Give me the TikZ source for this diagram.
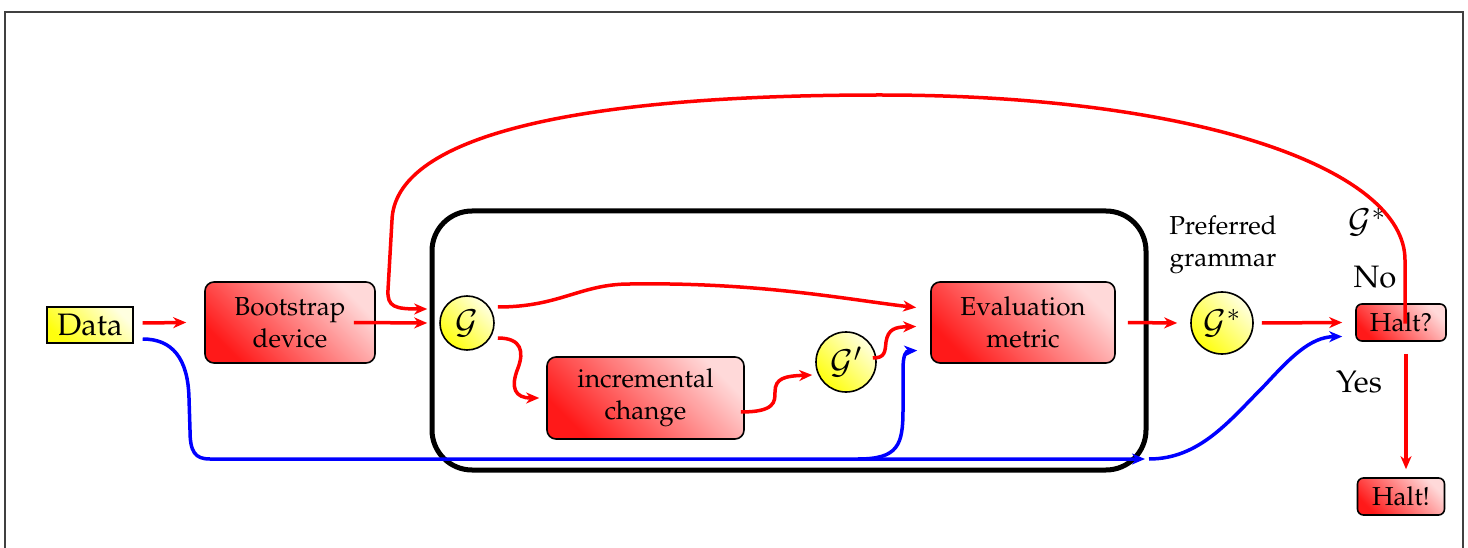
\documentclass[tikz,border=0pt]{standalone}
\usepackage[T1]{fontenc}
\usepackage{mathpazo}
\usetikzlibrary{arrows.meta,calc}
\begin{document}
\begin{tikzpicture}[x=1pt,y=-1pt,
  base/.style={font=\fontsize{26}{32}\selectfont},
  big/.style={font=\fontsize{31}{36}\selectfont},
  redbox/.style={base,draw=black,line width=1.6pt,rounded corners=9pt,align=center,
    top color=red!15,bottom color=red!90,shading angle=-45,inner sep=0pt},
  yelcirc/.style={circle,draw=black,line width=1.6pt,inner sep=0pt,
    top color=yellow!12,bottom color=yellow!95,shading angle=-45,font=\fontsize{33}{36}\selectfont},
  tip/.style={-{Stealth[length=13pt,width=11pt,inset=4pt]}},
  redarr/.style={tip,draw=red,line width=3.5pt},
  bluearr/.style={tip,draw=blue,line width=3.5pt},
  lbl/.style={inner sep=0pt,align=center}
]
\useasboundingbox (0,0) rectangle (1468,548);
\draw[black!75,line width=1.2pt] (5,560) -- (5,12) -- (1463,12) -- (1463,560);

% big container
\node[draw=black,line width=5pt,rounded corners=40pt,minimum width=714pt,minimum height=259pt,inner sep=0pt] (frame) at (789,340.5) {};

% nodes
\node[big,draw=black,line width=1.4pt,top color=yellow!12,bottom color=yellow!95,shading angle=-45,
  minimum width=86pt,minimum height=36pt,inner sep=0pt] (data) at (90,325) {Data};
\node[redbox,minimum width=170pt,minimum height=81pt] (boot) at (290,322.5) {Bootstrap\\device};
\node[yelcirc,minimum size=54pt] (G) at (467,323) {$\mathcal{G}$};
\node[redbox,minimum width=197pt,minimum height=82pt] (incr) at (645.5,398) {incremental\\change};
\node[yelcirc,minimum size=60pt] (Gp) at (846,362) {$\mathcal{G}'$};
\node[redbox,minimum width=184pt,minimum height=81pt] (eval) at (1023,322.5) {Evaluation\\metric};
\node[yelcirc,minimum size=62pt] (Gs) at (1222,323) {$\mathcal{G}^*$};
\node[redbox,rounded corners=6pt,minimum width=90pt,minimum height=37pt] (halt) at (1401,322.5) {Halt?};
\node[redbox,rounded corners=6pt,minimum width=87pt,minimum height=37pt] (stop) at (1401,496.5) {Halt!};

% labels
\node[lbl,base] (pref) at (1223,245) {Preferred\\grammar};
\node[lbl,font=\fontsize{33}{36}\selectfont] (gslab) at (1367,222) {$\mathcal{G}^*$};
\node[lbl,big] (no) at (1375,277) {No};
\node[lbl,big] (yes) at (1359,382) {Yes};

% junction points of the blue line
\coordinate (bj) at (1145,459);
\coordinate (bk) at (1149,459);

% blue paths
\draw[bluearr] ($(data.east)+(9,14)$) .. controls (172,339) and (188,358) .. (189,398)
   -- (190,430) .. controls (190,452) and (195,459) .. (210,459) -- (bj);
\draw[bluearr] (bk) .. controls (1200,459) and (1230,420) .. (1265,385)
   .. controls (1290,358) and (1310,337) .. ($(halt.west)+(-13,14)$);
\draw[bluearr] (858,459) .. controls (898,459) and (903,445) .. (903,410) -- (903,370)
   .. controls (903,354) and (906,351) .. ($(eval.west)+(-13,28)$);

% red paths
\draw[redarr] ($(data.east)+(9,-2)$) -- ($(boot.west)+(-18,0)$);
\draw[redarr] ($(boot.east)+(-22,0)$) -- ($(G.west)+(-12,0)$);
\draw[redarr] ($(halt.center)+(4,1)$) -- (1405,260)
   .. controls (1405,170) and (1200,95) .. (880,95)
   .. controls (560,95) and (395,140) .. (392,220)
   -- (388,290) .. controls (387,307) and (395,309) .. ($(G.west)+(-12,-14)$);
\draw[redarr] ($(G.east)+(3,-16)$) .. controls (560,307) and (580,284) .. (630,284)
   .. controls (760,282) and (850,300) .. ($(eval.west)+(-14,-15)$);
\draw[redarr] ($(G.east)+(3,15)$) .. controls (522,338) and (524,352) .. (518,368)
   .. controls (510,388) and (515,398) .. ($(incr.west)+(-7,0)$);
\draw[redarr] ($(incr.east)+(-4,14)$) .. controls (775,412) and (775,402) .. (775,392)
   .. controls (775,378) and (785,376) .. ($(Gp.west)+(-3,13)$);
\draw[redarr] ($(Gp.east)+(-4,-4)$) .. controls (885,358) and (885,352) .. (886,342)
   .. controls (888,329) and (895,327) .. ($(eval.west)+(-14,4)$);
\draw[redarr] ($(eval.east)+(12,0)$) -- ($(Gs.west)+(-13,0)$);
\draw[redarr] ($(Gs.east)+(8,0)$) -- ($(halt.west)+(-13,0)$);
\draw[redarr] ($(halt.south)+(5,12)$) -- ($(stop.north)+(5,-8)$);
\end{tikzpicture}
\end{document}
